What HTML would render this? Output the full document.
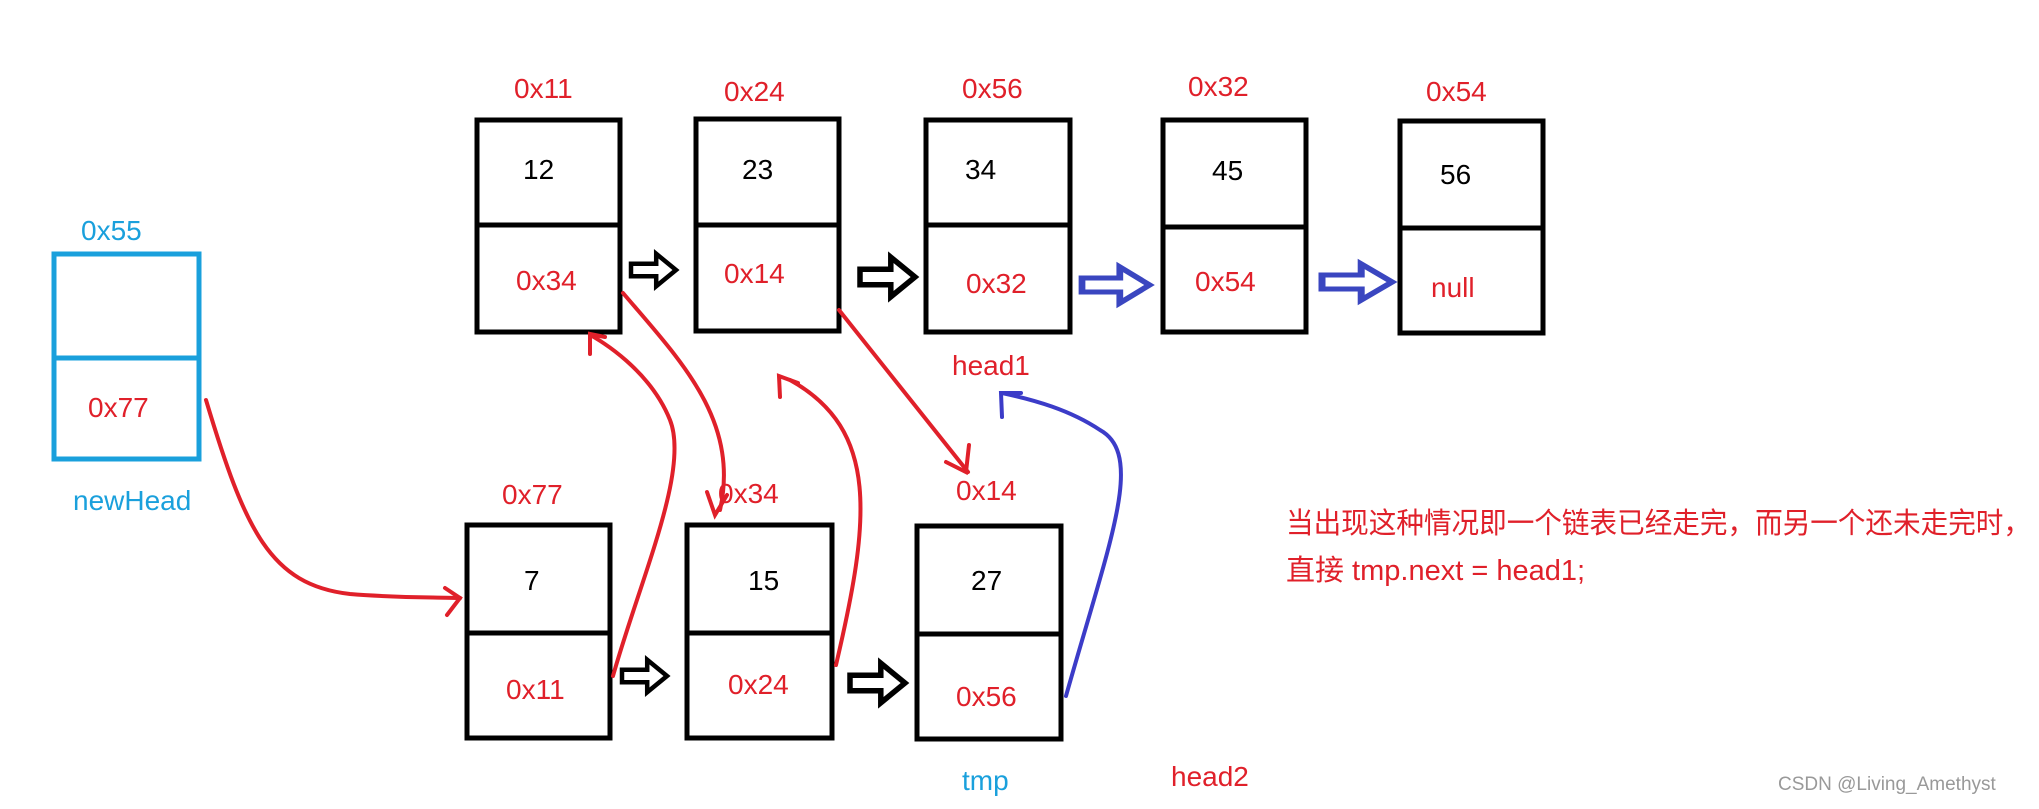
<!DOCTYPE html>
<html><head><meta charset="utf-8"><style>
html,body{margin:0;padding:0;background:#fff;}
svg{display:block;}
text{font-family:"Liberation Sans","Noto Sans CJK SC",sans-serif;}
</style></head><body>
<svg width="2039" height="809" viewBox="0 0 2039 809" xmlns="http://www.w3.org/2000/svg">
<defs>
<g id="ha">
<path d="M0,-7 L28,-7 L28,-18 L50,0 L28,18 L28,7 L0,7 Z" fill="none" stroke-width="5" stroke-linejoin="miter"/>
</g>
</defs>
<g fill="none" stroke="#000" stroke-width="5">
<rect x="477" y="120" width="143" height="212"/><line x1="477" y1="225" x2="620" y2="225"/>
<rect x="696" y="119" width="143" height="212"/><line x1="696" y1="225" x2="839" y2="225"/>
<rect x="926" y="120" width="144" height="212"/><line x1="926" y1="225" x2="1070" y2="225"/>
<rect x="1163" y="120" width="143" height="212"/><line x1="1163" y1="227" x2="1306" y2="227"/>
<rect x="1400" y="121" width="143" height="212"/><line x1="1400" y1="228" x2="1543" y2="228"/>
<rect x="467" y="525" width="143" height="213"/><line x1="467" y1="633" x2="610" y2="633"/>
<rect x="687" y="525" width="145" height="213"/><line x1="687" y1="633" x2="832" y2="633"/>
<rect x="917" y="526" width="144" height="213"/><line x1="917" y1="634" x2="1061" y2="634"/>
</g>
<g fill="none" stroke="#1aa0dc" stroke-width="5">
<rect x="54" y="254" width="145" height="205"/><line x1="54" y1="358" x2="199" y2="358"/>
</g>
<use href="#ha" transform="translate(631,270) scale(0.9)" stroke="#000"/>
<use href="#ha" transform="translate(860,277) scale(1.1)" stroke="#000"/>
<use href="#ha" transform="translate(1082,285) scale(1.35,1)" stroke="#3a46c0"/>
<use href="#ha" transform="translate(1322,282) scale(1.4,1)" stroke="#3a46c0"/>
<use href="#ha" transform="translate(622,676) scale(0.9)" stroke="#000"/>
<use href="#ha" transform="translate(850,683) scale(1.1)" stroke="#000"/>
<g fill="none" stroke="#e0202a" stroke-width="4" stroke-linecap="round">
<path d="M206,400 C245,530 270,585 350,594 C400,598 430,597 460,598"/>
<path d="M445,588 L460,598 L447,615"/>
<path d="M613,676 C640,580 690,470 670,420 C650,370 600,340 590,335"/>
<path d="M590,354 L590,334 L605,337"/>
<path d="M623,293 C680,360 740,420 720,510"/>
<path d="M707,492 L715,515 L727,495"/>
<path d="M836,665 C870,520 880,430 790,380"/>
<path d="M780,397 L779,376 L798,383"/>
<path d="M839,310 L968,472"/>
<path d="M946,462 L966,472 L969,445"/>
</g>
<g fill="none" stroke="#3c3cc8" stroke-width="4" stroke-linecap="round">
<path d="M1066,696 C1110,540 1145,455 1100,430 C1070,410 1035,400 1002,393"/>
<path d="M1002,417 L1001,393 L1021,393"/>
</g>
<g font-size="28" fill="#e0202a">
<text x="514" y="98">0x11</text>
<text x="724" y="101">0x24</text>
<text x="962" y="98">0x56</text>
<text x="1188" y="96">0x32</text>
<text x="1426" y="101">0x54</text>
<text x="516" y="290">0x34</text>
<text x="724" y="283">0x14</text>
<text x="966" y="293">0x32</text>
<text x="1195" y="291">0x54</text>
<text x="1431" y="297">null</text>
<text x="952" y="375">head1</text>
<text x="88" y="417">0x77</text>
<text x="502" y="504">0x77</text>
<text x="718" y="503">0x34</text>
<text x="956" y="500">0x14</text>
<text x="506" y="699">0x11</text>
<text x="728" y="694">0x24</text>
<text x="956" y="706">0x56</text>
<text x="1171" y="786">head2</text>
</g>
<g font-size="28" fill="#000">
<text x="523" y="179">12</text>
<text x="742" y="179">23</text>
<text x="965" y="179">34</text>
<text x="1212" y="180">45</text>
<text x="1440" y="184">56</text>
<text x="524" y="590">7</text>
<text x="748" y="590">15</text>
<text x="971" y="590">27</text>
</g>
<g font-size="28" fill="#1aa0dc">
<text x="81" y="240">0x55</text>
<text x="73" y="510">newHead</text>
<text x="962" y="790">tmp</text>
</g>
<g font-size="29" fill="#e0202a">
<text x="1286" y="533" textLength="745" lengthAdjust="spacingAndGlyphs">当出现这种情况即一个链表已经走完，而另一个还未走完时，</text>
<text x="1286" y="580">直接 tmp.next = head1;</text>
</g>
<text x="1778" y="790" font-size="19" fill="#999">CSDN @Living_Amethyst</text>
</svg>
</body></html>
